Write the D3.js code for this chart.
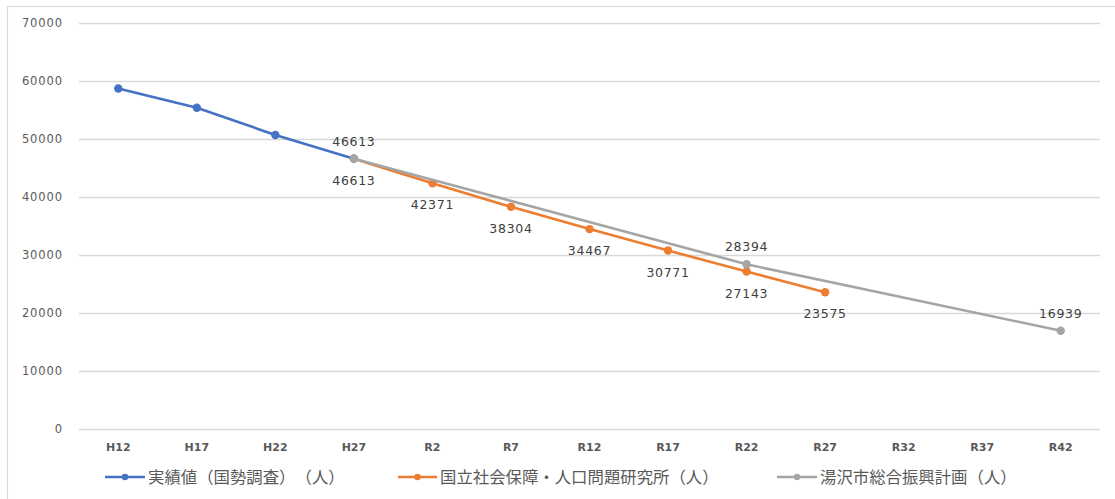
<!DOCTYPE html>
<html>
<head>
<meta charset="utf-8">
<script src="https://cdn.jsdelivr.net/npm/d3@7"></script>
<style>
  html, body { margin: 0; padding: 0; background: #fff; }
  svg { display: block; }
</style>
</head>
<body>
<svg id="chart" width="1115" height="499"></svg>
<script>
// Population of Yuzawa City: census results and two projections
const categories = ["H12", "H17", "H22", "H27", "R2", "R7", "R12", "R17", "R22", "R27", "R32", "R37", "R42"];
const actualValues = [58700, 55400, 50700, 46613, null, null, null, null, null, null, null, null, null];
const ipssValues = [null, null, null, 46613, 42371, 38304, 34467, 30771, 27143, 23575, null, null, null];
const planValues = [null, null, null, 46613, null, null, null, null, 28394, null, null, null, 16939];
const yTicks = [0, 10000, 20000, 30000, 40000, 50000, 60000, 70000];
const seriesNames = ["実績値（国勢調査）（人）", "国立社会保障・人口問題研究所（人）", "湯沢市総合振興計画（人）"];

const W = 1115, H = 499;
const plot = { left: 79, right: 1100, top: 23, bottom: 429 };
const svg = d3.select("#chart");

// chart frame
svg.append("rect")
  .attr("x", 7.5).attr("y", 6.5)
  .attr("width", W + 10).attr("height", H + 10)
  .attr("fill", "#fff").attr("stroke", "#d9d9d9").attr("stroke-width", 1.2);

const x = d3.scaleBand().domain(categories).range([plot.left, plot.right]);
const y = d3.scaleLinear().domain([0, 70000]).range([plot.bottom, plot.top]);
const cx = c => x(c) + x.bandwidth() / 2;

// horizontal gridlines + value axis labels
const yAxis = d3.axisLeft(y).tickValues(yTicks).tickSize(-(plot.right - plot.left)).tickPadding(16).tickFormat(d3.format("d"));
const gy = svg.append("g").attr("transform", `translate(${plot.left},0)`).call(yAxis);
gy.select(".domain").remove();
gy.selectAll(".tick line").attr("stroke", "#d9d9d9").attr("stroke-width", 1.3);
gy.selectAll(".tick text")
  .attr("fill", "#595959")
  .style("font-family", "'DejaVu Sans', sans-serif")
  .style("font-size", "11.5px")
  .style("letter-spacing", "0.9px");

// category axis labels
const xAxis = d3.axisBottom(x).tickSize(0).tickPadding(14);
const gx = svg.append("g").attr("transform", `translate(0,${plot.bottom})`).call(xAxis);
gx.select(".domain").remove();
gx.selectAll(".tick text")
  .attr("fill", "#595959")
  .style("font-family", "'DejaVu Sans', sans-serif")
  .style("font-weight", "bold")
  .style("font-size", "11px");

const series = [
  { name: seriesNames[0], values: actualValues, color: "#4472c4" },
  { name: seriesNames[1], values: ipssValues, color: "#ed7d31" },
  { name: seriesNames[2], values: planValues, color: "#a5a5a5" }
];

const line = d3.line().x(d => cx(d.c)).y(d => y(d.v));

series.forEach(s => {
  const pts = categories.map((c, i) => ({ c, v: s.values[i] })).filter(d => d.v != null);
  svg.append("path")
    .datum(pts)
    .attr("d", line)
    .attr("fill", "none")
    .attr("stroke", s.color)
    .attr("stroke-width", 2.6)
    .attr("stroke-linejoin", "round");
  svg.append("g").selectAll("circle")
    .data(pts).join("circle")
    .attr("cx", d => cx(d.c)).attr("cy", d => y(d.v))
    .attr("r", 4.2)
    .attr("fill", s.color);
  s.pts = pts;
});

// data labels: projection values below the orange line, plan values above the gray line
const labelStyle = sel => sel
  .attr("text-anchor", "middle")
  .attr("fill", "#404040")
  .style("font-family", "'DejaVu Sans', sans-serif")
  .style("font-size", "12.5px")
  .style("letter-spacing", "0.7px");

svg.append("g").selectAll("text")
  .data(series[1].pts).join("text")
  .attr("x", d => cx(d.c)).attr("y", d => y(d.v) + 26)
  .text(d => d.v)
  .call(labelStyle);

svg.append("g").selectAll("text")
  .data(series[2].pts).join("text")
  .attr("x", d => cx(d.c)).attr("y", d => y(d.v) - 13)
  .text(d => d.v)
  .call(labelStyle);

// legend
const legendItems = [
  { s: series[0], x0: 105, x1: 145 },
  { s: series[1], x0: 398, x1: 437 },
  { s: series[2], x0: 777, x1: 817 }
];
const lg = svg.append("g").attr("transform", "translate(0,477)");
legendItems.forEach(it => {
  lg.append("line").attr("x1", it.x0).attr("x2", it.x1).attr("y1", 0).attr("y2", 0)
    .attr("stroke", it.s.color).attr("stroke-width", 2.4);
  lg.append("circle").attr("cx", (it.x0 + it.x1) / 2).attr("cy", 0).attr("r", 3.2).attr("fill", it.s.color);
  lg.append("text").attr("x", it.x1 + 3).attr("y", 6)
    .attr("fill", "#595959")
    .style("font-family", "'Noto Sans CJK JP', sans-serif")
    .style("font-size", "16.4px")
    .style("text-spacing-trim", "space-all")
    .style("font-kerning", "none")
    .text(it.s.name);
});
</script>
</body>
</html>
